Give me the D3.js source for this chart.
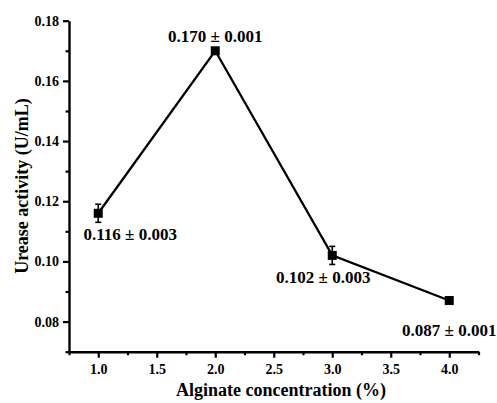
<!DOCTYPE html>
<html>
<head>
<meta charset="utf-8">
<script src="https://cdn.jsdelivr.net/npm/d3@7"></script>
<style>
  html, body { margin: 0; padding: 0; background: #fff; }
  text { font-family: "Liberation Serif", "Times New Roman", serif; font-weight: bold; fill: #000; }
</style>
</head>
<body>
<svg id="chart" width="497" height="403"></svg>
<script>
const concentrations = [1.0, 2.0, 3.0, 4.0];
const activity = [0.116, 0.170, 0.102, 0.087];
const errors = [0.003, 0.001, 0.003, 0.001];
const labels = ["0.116 ± 0.003", "0.170 ± 0.001", "0.102 ± 0.003", "0.087 ± 0.001"];
const xTicks = [1.0, 1.5, 2.0, 2.5, 3.0, 3.5, 4.0];
const yTicks = [0.08, 0.10, 0.12, 0.14, 0.16, 0.18];
const xMinor = [0.75, 1.25, 1.75, 2.25, 2.75, 3.25, 3.75, 4.25];
const yMinor = [0.07, 0.09, 0.11, 0.13, 0.15, 0.17];

const svg = d3.select("#chart");
const mLeft = 69, mRight = 478.5, mTop = 20.7, mBottom = 351.7;

const x = d3.scaleLinear().domain([0.75, 4.25]).range([mLeft, mRight]);
const y = d3.scaleLinear().domain([0.07, 0.18]).range([mBottom, mTop]);

// minor ticks
const xMinorAxis = d3.axisBottom(x).tickValues(xMinor).tickSize(3.5).tickFormat("");
const yMinorAxis = d3.axisLeft(y).tickValues(yMinor).tickSize(3.5).tickFormat("");
svg.append("g").attr("transform", `translate(0,${mBottom})`).call(xMinorAxis)
  .call(g => g.select(".domain").remove())
  .call(g => g.selectAll("line").attr("stroke-width", 2.2));
svg.append("g").attr("transform", `translate(${mLeft},0)`).call(yMinorAxis)
  .call(g => g.select(".domain").remove())
  .call(g => g.selectAll("line").attr("stroke-width", 2.2));

// major axes
const xAxis = d3.axisBottom(x).tickValues(xTicks).tickSize(6).tickSizeOuter(0).tickPadding(6).tickFormat(d3.format(".1f"));
const yAxis = d3.axisLeft(y).tickValues(yTicks).tickSize(6).tickSizeOuter(0).tickPadding(4).tickFormat(d3.format(".2f"));

svg.append("g").attr("transform", `translate(0,${mBottom})`).call(xAxis)
  .call(g => g.select(".domain").attr("stroke-width", 2.4))
  .call(g => g.selectAll("line").attr("stroke-width", 2.2))
  .call(g => g.selectAll("text").style("font-size", "14px").style("font-family", "Liberation Serif").style("font-weight", "bold"));
svg.append("g").attr("transform", `translate(${mLeft},0)`).call(yAxis)
  .call(g => g.select(".domain").attr("stroke-width", 2.4))
  .call(g => g.selectAll("line").attr("stroke-width", 2.2))
  .call(g => g.selectAll("text").style("font-size", "14px").style("font-family", "Liberation Serif").style("font-weight", "bold"));

const data = concentrations.map((c, i) => ({ c, v: activity[i], e: errors[i], label: labels[i] }));

// line
svg.append("path").datum(data)
  .attr("fill", "none").attr("stroke", "#000").attr("stroke-width", 2.3)
  .attr("d", d3.line().x(d => x(d.c)).y(d => y(d.v)));

// error bars
const eb = svg.append("g").attr("stroke", "#000").attr("stroke-width", 1.6);
data.forEach(d => {
  eb.append("line").attr("x1", x(d.c)).attr("x2", x(d.c)).attr("y1", y(d.v - d.e)).attr("y2", y(d.v + d.e));
  [d.v - d.e, d.v + d.e].forEach(v => {
    eb.append("line").attr("x1", x(d.c) - 3).attr("x2", x(d.c) + 3).attr("y1", y(v)).attr("y2", y(v));
  });
});

// markers
svg.append("g").selectAll("rect").data(data).join("rect")
  .attr("x", d => x(d.c) - 4.5).attr("y", d => y(d.v) - 4.5)
  .attr("width", 9).attr("height", 9).attr("fill", "#000");

// annotations
const offsets = [[32, 27], [0, -9], [-9, 28], [0, 35]];
svg.append("g").selectAll("text").data(data).join("text")
  .attr("x", (d, i) => x(d.c) + offsets[i][0])
  .attr("y", (d, i) => y(d.v) + offsets[i][1])
  .attr("text-anchor", "middle")
  .style("font-size", "17px")
  .text(d => d.label);

// axis titles
svg.append("text").attr("x", 281).attr("y", 396)
  .attr("text-anchor", "middle").style("font-size", "18px")
  .text("Alginate concentration (%)");
svg.append("text").attr("transform", `translate(28,186) rotate(-90)`)
  .attr("text-anchor", "middle").style("font-size", "18px")
  .text("Urease activity (U/mL)");
</script>
</body>
</html>
